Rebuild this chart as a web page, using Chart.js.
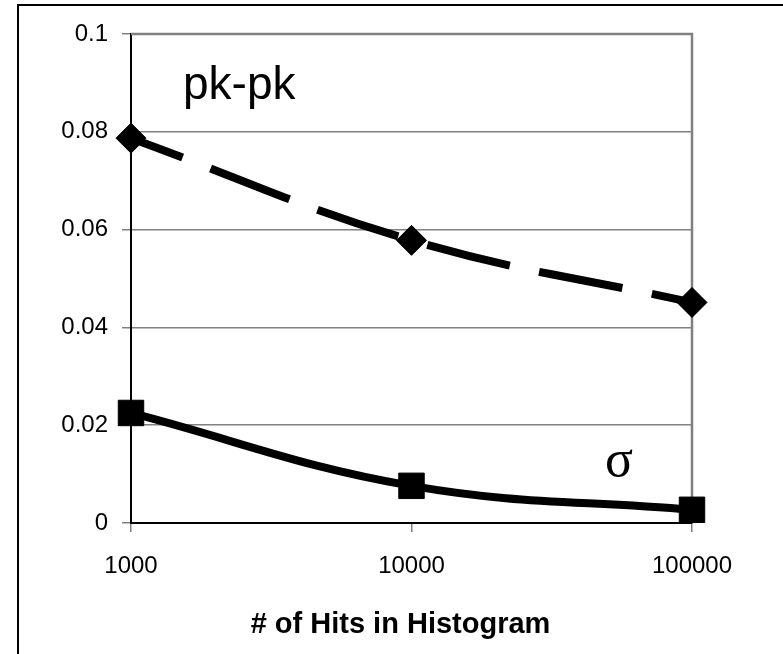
<!DOCTYPE html>
<html>
<head>
<meta charset="utf-8">
<script src="https://cdn.jsdelivr.net/npm/chart.js@4/dist/chart.umd.min.js"></script>
<style>
  html, body { margin: 0; padding: 0; background: #fff; }
  #wrap { width: 783px; height: 654px; position: relative; }
</style>
</head>
<body>
<div id="wrap"><canvas id="c" width="783" height="654"></canvas></div>
<script>
// ---- data ----
const hits = [1000, 10000, 100000];
const pkpk = [0.0787, 0.0578, 0.0451];
const sigma = [0.0225, 0.0076, 0.0027];
const xTickValues = [1000, 10000, 100000];
const yTickValues = [0, 0.02, 0.04, 0.06, 0.08, 0.1];
const xTitle = '# of Hits in Histogram';
const pkLabel = 'pk-pk';
const sigmaLabel = 'σ';

const toXY = (ys) => hits.map((x, i) => ({ x: x, y: ys[i] }));

const decor = {
  id: 'decor',
  beforeDraw(chart) {
    const ctx = chart.ctx;
    ctx.save();
    ctx.fillStyle = '#fff';
    ctx.fillRect(0, 0, chart.width, chart.height);
    ctx.strokeStyle = '#000';
    ctx.lineWidth = 2;
    ctx.strokeRect(18, 5, 900, 900);
    ctx.restore();
  },
  beforeDatasetsDraw(chart) {
    const ctx = chart.ctx, a = chart.chartArea;
    ctx.save();
    ctx.strokeStyle = '#808080';
    ctx.lineWidth = 2.5;
    ctx.beginPath();
    ctx.moveTo(a.left, a.top);
    ctx.lineTo(a.right, a.top);
    ctx.lineTo(a.right, a.bottom);
    ctx.stroke();
    ctx.restore();
  },
  afterDraw(chart) {
    const ctx = chart.ctx, a = chart.chartArea;
    ctx.save();
    ctx.fillStyle = '#000';
    ctx.textAlign = 'left';
    ctx.textBaseline = 'alphabetic';
    ctx.font = '46px "Liberation Sans", Arial, sans-serif';
    ctx.fillText(pkLabel, a.left + 52, a.top + 65);
    ctx.textAlign = 'center';
    ctx.textBaseline = 'middle';
    ctx.font = '52px "Liberation Serif", "Times New Roman", serif';
    ctx.fillText(sigmaLabel, 619, 462);
    ctx.textBaseline = 'alphabetic';
    ctx.font = 'bold 29px "Liberation Sans", Arial, sans-serif';
    ctx.fillText(xTitle, (a.left + a.right) / 2 - 11, 633);
    ctx.restore();
  }
};

new Chart(document.getElementById('c'), {
  type: 'line',
  data: {
    datasets: [
      {
        label: 'pk-pk',
        data: toXY(pkpk),
        clip: false,
        borderColor: '#000',
        backgroundColor: '#000',
        borderWidth: 8,
        borderDash: [85, 30],
        borderDashOffset: 30,
        tension: 0.4,
        pointStyle: 'rectRot',
        pointRadius: 15,
        pointBorderWidth: 1,
        pointBackgroundColor: '#000',
        pointBorderColor: '#000'
      },
      {
        label: 'sigma',
        data: toXY(sigma),
        clip: false,
        borderColor: '#000',
        backgroundColor: '#000',
        borderWidth: 8,
        tension: 0.4,
        pointStyle: 'rect',
        pointRadius: 18,
        pointBorderWidth: 1,
        pointBackgroundColor: '#000',
        pointBorderColor: '#000'
      }
    ]
  },
  options: {
    responsive: false,
    animation: false,
    events: [],
    layout: { padding: { left: 0, top: 34, right: 91, bottom: 0 } },
    plugins: { legend: { display: false }, tooltip: { enabled: false }, title: { display: false } },
    scales: {
      x: {
        type: 'logarithmic',
        min: 1000,
        max: 100000,
        afterBuildTicks(scale) { scale.ticks = xTickValues.map(v => ({ value: v })); },
        afterFit(scale) { scale.height = 654 - 523; },
        grid: { display: true, drawOnChartArea: false, drawTicks: true, tickLength: 9, color: '#808080', lineWidth: 1.5 },
        border: { display: true, color: '#000', width: 2 },
        ticks: {
          color: '#000',
          padding: 20,
          maxRotation: 0,
          autoSkip: false,
          font: { family: '"Liberation Sans", Arial, sans-serif', size: 24 },
          callback: (v) => String(v)
        }
      },
      y: {
        type: 'linear',
        min: 0,
        max: 0.1,
        afterBuildTicks(scale) { scale.ticks = yTickValues.map(v => ({ value: v })); },
        afterFit(scale) { scale.width = 131; },
        grid: { display: true, drawOnChartArea: true, drawTicks: true, tickLength: 9, color: '#808080', lineWidth: 1.5 },
        border: { display: true, color: '#000', width: 2 },
        ticks: {
          color: '#000',
          padding: 14,
          font: { family: '"Liberation Sans", Arial, sans-serif', size: 24 },
          callback: (v) => String(+v.toFixed(2))
        }
      }
    }
  },
  plugins: [decor]
});
</script>
</body>
</html>
